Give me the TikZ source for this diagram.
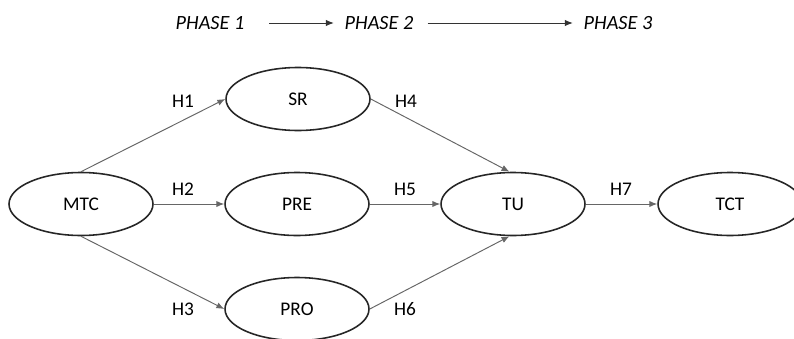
\documentclass[tikz,border=0pt]{standalone}
\usepackage{fontspec}
\setmainfont{Carlito}
\usetikzlibrary{shapes.geometric}
\usetikzlibrary{arrows.meta}

\begin{document}
\begin{tikzpicture}[x=0.02cm, y=-0.02cm,
    construct/.style={shape=ellipse, draw=black!85, line width=0.9pt, minimum width=2.88cm, minimum height=1.26cm, inner sep=0pt, font=\fontsize{11}{13}\selectfont},
    hyp/.style={->, draw=black!60, line width=0.55pt, >={Latex[length=4.5pt,width=3.6pt]}},
    hlabel/.style={font=\fontsize{11}{13}\selectfont},
    phase/.style={font=\fontsize{11.5}{13}\itshape, inner sep=1pt}]
      \useasboundingbox (0,0) rectangle (794,338);
      % phases
      \node (ph1) [phase] at (210,23) {PHASE 1};
      \node (ph2) [phase] at (379,23) {PHASE 2};
      \node (ph3) [phase] at (618,23) {PHASE 3};
      \draw [hyp, draw=black!80] ([xshift=13pt]ph1.east) -- ([xshift=-5pt]ph2.west);
      \draw [hyp, draw=black!80] ([xshift=7pt]ph2.east) -- ([xshift=-5pt]ph3.west);
      % constructs
      \node (mtc) [construct] at (81,204) {MTC};
      \node (sr) [construct] at (298,99) {SR};
      \node (pre) [construct] at (297,204) {PRE};
      \node (pro) [construct] at (297,309) {PRO};
      \node (tu) [construct] at (513,204) {TU};
      \node (tct) [construct] at (730,204) {TCT};
      % hypotheses
      \draw [hyp] (mtc.north) -- (sr.west);
      \draw [hyp] (mtc.east) -- (pre.west);
      \draw [hyp] (mtc.south) -- (pro.west);
      \draw [hyp] (sr.east) -- ([xshift=-2pt]tu.north);
      \draw [hyp] (pre.east) -- (tu.west);
      \draw [hyp] (pro.east) -- ([xshift=-2pt]tu.south);
      \draw [hyp] (tu.east) -- (tct.west);
      \node (h1) [hlabel] at (183,101) {H1};
      \node (h2) [hlabel] at (183,189) {H2};
      \node (h3) [hlabel] at (183,309) {H3};
      \node (h4) [hlabel] at (406,101) {H4};
      \node (h5) [hlabel] at (405,189) {H5};
      \node (h6) [hlabel] at (405,309) {H6};
      \node (h7) [hlabel] at (621,189) {H7};
\end{tikzpicture}
\end{document}
